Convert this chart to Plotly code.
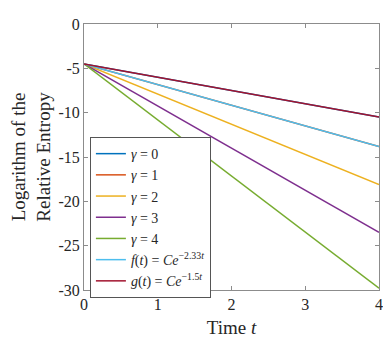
import plotly.graph_objects as go

t = [0, 1, 2, 3, 4]
gamma0 = [-4.5, -6.0, -7.5, -9.0, -10.5]
gamma1 = [-4.5, -6.83, -9.16, -11.49, -13.82]
gamma2 = [-4.5, -7.9, -11.3, -14.7, -18.1]
gamma3 = [-4.5, -9.25, -14.0, -18.75, -23.5]
gamma4 = [-4.5, -10.83, -17.15, -23.48, -29.8]
f_vals = [-4.5, -6.83, -9.16, -11.49, -13.82]
g_vals = [-4.5, -6.0, -7.5, -9.0, -10.5]

names = ["<i>γ</i> = 0", "<i>γ</i> = 1", "<i>γ</i> = 2", "<i>γ</i> = 3", "<i>γ</i> = 4",
         "<i>f</i>(<i>t</i>) = <i>Ce</i><sup>−2.33<i>t</i></sup>",
         "<i>g</i>(<i>t</i>) = <i>Ce</i><sup>−1.5<i>t</i></sup>"]
series = [gamma0, gamma1, gamma2, gamma3, gamma4, f_vals, g_vals]
colors = ["#0072BD", "#D95319", "#EDB120", "#7E2F8E", "#77AC30", "#4DBEEE", "#A2142F"]

x_ticks = [0, 1, 2, 3, 4]
x_ticktext = ["0", "1", "2", "3", "4"]
y_ticks = [0, -5, -10, -15, -20, -25, -30]
y_ticktext = ["0", "-5", "-10", "-15", "-20", "-25", "-30"]

fig = go.Figure()
for n, s, c in zip(names, series, colors):
    fig.add_trace(go.Scatter(x=t, y=s, mode="lines", name=n,
                             line=dict(color=c, width=1.5)))

font_family = "Liberation Serif"
fig.update_layout(
    width=383, height=335,
    margin=dict(l=76, r=8, t=11, b=47),
    paper_bgcolor="white", plot_bgcolor="white",
    font=dict(family=font_family, size=16, color="#262626"),
    showlegend=True,
    legend=dict(x=0.02, y=0.575, xanchor="left", yanchor="top",
                bgcolor="white", bordercolor="#555", borderwidth=1,
                font=dict(family=font_family, size=14, color="#262626"),
                itemwidth=30, tracegroupgap=0),
    xaxis=dict(range=[0, 4], tickvals=x_ticks, ticktext=x_ticktext,
               ticks="inside", ticklen=4, tickcolor="#8c8c8c",
               showline=True, linecolor="#8c8c8c", linewidth=1, mirror="ticks",
               showgrid=False, zeroline=False,
               title=dict(text="Time <i>t</i>", standoff=8)),
    yaxis=dict(range=[-30, 0], tickvals=y_ticks, ticktext=y_ticktext,
               ticks="inside", ticklen=4, tickcolor="#8c8c8c",
               showline=True, linecolor="#8c8c8c", linewidth=1, mirror="ticks",
               showgrid=False, zeroline=False,
               title=dict(text="Logarithm of the<br>Relative Entropy", standoff=4)),
)

fig.write_html("out.html")
